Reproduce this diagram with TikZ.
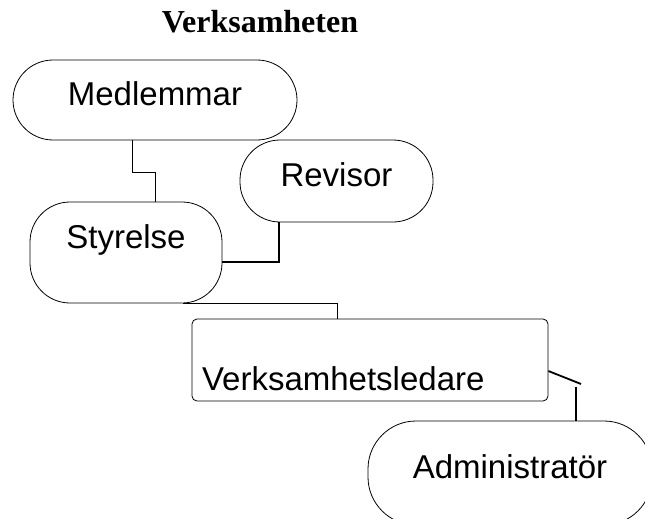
\documentclass[tikz,border=0pt]{standalone}
\usepackage{fontspec}
\setmainfont{Liberation Serif}
\setsansfont{Liberation Sans}
\usepackage{tikz}
\usetikzlibrary{positioning}

\begin{document}
\begin{tikzpicture}[
  x=1pt,
  y=-1pt,
  pill/.style={
    rectangle,
    draw=black,
    line width=0.8pt,
    fill=white,
    text=black,
    rounded corners=40pt,
    font=\sffamily\fontsize{33}{39}\selectfont,
    text height=22pt,
    text depth=12pt,
    inner sep=0pt
  },
  plainbox/.style={
    rectangle,
    draw=black,
    line width=0.8pt,
    fill=white,
    text=black,
    rounded corners=5pt,
    font=\sffamily\fontsize{33}{39}\selectfont,
    inner ysep=0pt,
    inner xsep=10pt,
    align=left
  },
  thinline/.style={
    line width=0.8pt,
    draw=black
  },
  thickline/.style={
    line width=1.8pt,
    draw=black
  }
]
\clip (0,0) rectangle (645,519);

% Title
\node[anchor=base, font=\bfseries\fontsize{32}{38}\selectfont] (title) at (260,33) {Verksamheten};

% Top level
\node[pill, minimum width=284pt, minimum height=80pt] (medlem) at (155,100) {Medlemmar};

% Board and auditor
\node[pill, minimum width=192pt, minimum height=101pt, text depth=31pt] (styrelse) at (126,252.5) {Styrelse};
\node[pill, minimum width=193pt, minimum height=82pt] (revisor) at (336.5,181) {Revisor};
\draw[thinline] ([xshift=-23pt]medlem.south) -- ++(0,32) -| ([xshift=29pt]styrelse.north);
\draw[thickline] ([yshift=-9.5pt]styrelse.east) -| ([xshift=-57.5pt]revisor.south);

% Manager
\node[plainbox, minimum width=356pt, minimum height=82pt, text width=336pt, text height=60pt, text depth=0pt] (ledare) at (370,360) {Verksamhetsledare};
\draw[thinline] ([xshift=57pt]styrelse.south) -| ([xshift=-33pt]ledare.north);

% Administrator
\node[pill, minimum width=284pt, minimum height=104pt, rounded corners=48pt] (admin) at (510,473) {Administratör};
\coordinate (kinkA) at (581,384);
\coordinate (kinkB) at (576,387);
\draw[thickline] ([yshift=-11pt]ledare.east) -- (kinkA);
\draw[thickline] (kinkB) -- (kinkB |- admin.north);

\end{tikzpicture}
\end{document}
